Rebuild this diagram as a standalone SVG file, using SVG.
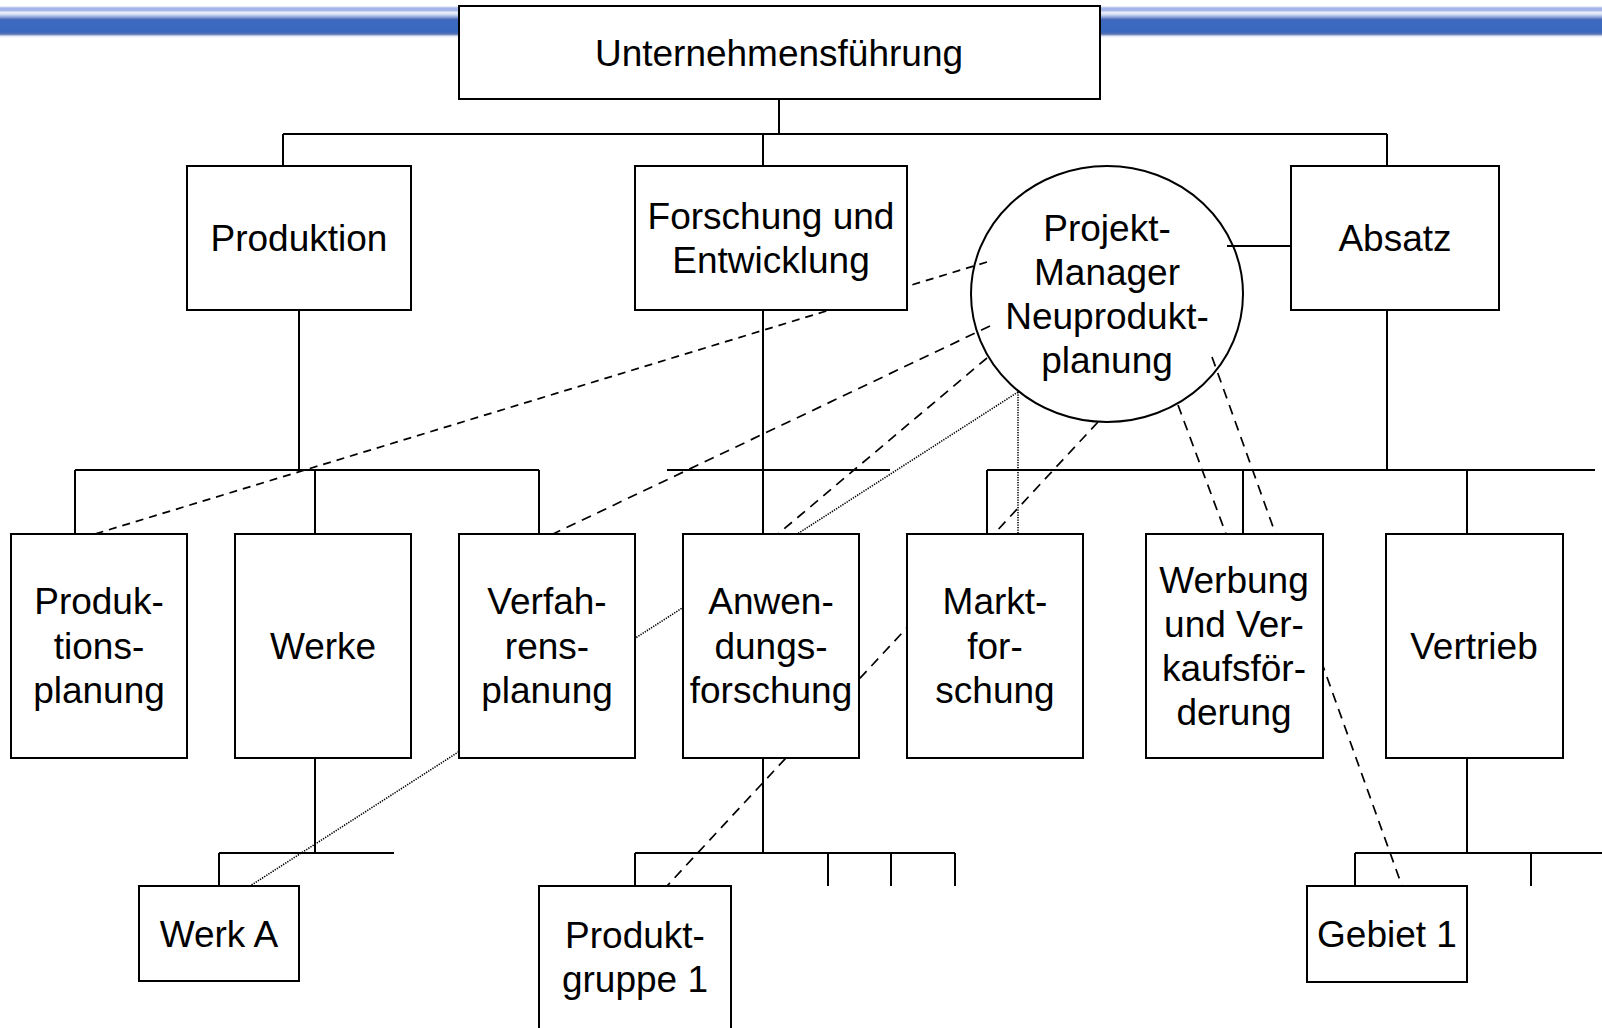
<svg xmlns="http://www.w3.org/2000/svg" width="1602" height="1028" viewBox="0 0 1602 1028">
  <defs>
    <linearGradient id="band" x1="0" y1="0" x2="0" y2="1">
      <stop offset="0" stop-color="#ffffff"/>
      <stop offset="0.06" stop-color="#a8b8ec"/>
      <stop offset="0.13" stop-color="#9fb0e8"/>
      <stop offset="0.2" stop-color="#e8eefa"/>
      <stop offset="0.26" stop-color="#d6e0f6"/>
      <stop offset="0.35" stop-color="#8aa2dc"/>
      <stop offset="0.42" stop-color="#4a68b5"/>
      <stop offset="0.48" stop-color="#3b6ac0"/>
      <stop offset="0.8" stop-color="#3a68bd"/>
      <stop offset="0.88" stop-color="#5a72b0"/>
      <stop offset="0.94" stop-color="#dfe8f6"/>
      <stop offset="1" stop-color="#ffffff"/>
    </linearGradient>
    <style>
      .box { fill: #ffffff; stroke: #000000; stroke-width: 2; }
      .oval { fill: none; stroke: #000000; stroke-width: 2; }
      .wire { fill: none; stroke: #000000; stroke-width: 2; }
      .dash { fill: none; stroke: #000000; stroke-width: 1.7; stroke-dasharray: 10 7; }
      .dash-short { fill: none; stroke: #000000; stroke-width: 1.7; stroke-dasharray: 8 6; }
      .dot { fill: none; stroke: #000000; stroke-width: 1.6; stroke-dasharray: 1.3 1.2; }
      text { font-family: "Liberation Sans", Arial, sans-serif; font-size: 37px; fill: #000000; text-anchor: middle; }
    </style>
  </defs>

  <rect width="1602" height="1028" fill="#ffffff"/>

  <!-- header band -->
  <rect x="0" y="6" width="1602" height="32" fill="url(#band)"/>

  <!-- connectors: drawn first so the boxes cover the parts that run behind them -->
  <g id="connectors">
    <!-- hierarchy lines -->
    <path class="wire" d="M779,99 V134 M283,134 H1387 M283,134 V166 M763,134 V166 M1387,134 V166"/>
    <path class="wire" d="M1227,246 H1291"/>
    <path class="wire" d="M299,310 V470 M75,470 H539 M75,470 V534 M315,470 V534 M539,470 V534"/>
    <path class="wire" d="M763,310 V534 M667,470 H890"/>
    <path class="wire" d="M1387,310 V470 M987,470 H1595 M987,470 V534 M1243,470 V534 M1467,470 V534"/>
    <path class="wire" d="M315,758 V853 M219,853 H394 M219,853 V886"/>
    <path class="wire" d="M763,758 V853 M635,853 H955 M635,853 V886 M828,853 V886 M891,853 V886 M955,853 V886"/>
    <path class="wire" d="M1467,758 V853 M1355,853 H1602 M1355,853 V886 M1531,853 V886"/>
    <!-- project manager links -->
    <line class="dash-short" x1="987" y1="262" x2="95" y2="534"/>
    <line class="dash" x1="990" y1="326" x2="553" y2="534"/>
    <line class="dash" x1="987" y1="358" x2="778" y2="534"/>
    <line class="dash" x1="1098" y1="422" x2="667" y2="886"/>
    <line class="dash" x1="1178" y1="405" x2="1226" y2="534"/>
    <line class="dash" x1="1212" y1="357" x2="1402" y2="886"/>
    <line class="dot" x1="1018" y1="392" x2="250" y2="886"/>
    <line class="dot" x1="1018" y1="392" x2="1018" y2="534"/>
  </g>

  <g id="unternehmensfuehrung">
    <rect class="box" x="459" y="6" width="641" height="93"/>
    <text x="779" y="66">Unternehmensführung</text>
  </g>

  <g id="produktion">
    <rect class="box" x="187" y="166" width="224" height="144"/>
    <text x="299" y="251">Produktion</text>
  </g>

  <g id="forschung-entwicklung">
    <rect class="box" x="635" y="166" width="272" height="144"/>
    <text x="771" y="229">Forschung und</text>
    <text x="771" y="273">Entwicklung</text>
  </g>

  <g id="projekt-manager">
    <ellipse class="oval" cx="1107" cy="294" rx="136" ry="128"/>
    <text x="1107" y="241">Projekt-</text>
    <text x="1107" y="285">Manager</text>
    <text x="1107" y="329">Neuprodukt-</text>
    <text x="1107" y="373">planung</text>
  </g>

  <g id="absatz">
    <rect class="box" x="1291" y="166" width="208" height="144"/>
    <text x="1395" y="251">Absatz</text>
  </g>

  <g id="produktionsplanung">
    <rect class="box" x="11" y="534" width="176" height="224"/>
    <text x="99" y="614">Produk-</text>
    <text x="99" y="659">tions-</text>
    <text x="99" y="703">planung</text>
  </g>

  <g id="werke">
    <rect class="box" x="235" y="534" width="176" height="224"/>
    <text x="323" y="659">Werke</text>
  </g>

  <g id="verfahrensplanung">
    <rect class="box" x="459" y="534" width="176" height="224"/>
    <text x="547" y="614">Verfah-</text>
    <text x="547" y="659">rens-</text>
    <text x="547" y="703">planung</text>
  </g>

  <g id="anwendungsforschung">
    <rect class="box" x="683" y="534" width="176" height="224"/>
    <text x="771" y="614">Anwen-</text>
    <text x="771" y="659">dungs-</text>
    <text x="771" y="703">forschung</text>
  </g>

  <g id="marktforschung">
    <rect class="box" x="907" y="534" width="176" height="224"/>
    <text x="995" y="614">Markt-</text>
    <text x="995" y="659">for-</text>
    <text x="995" y="703">schung</text>
  </g>

  <g id="werbung">
    <rect class="box" x="1146" y="534" width="177" height="224"/>
    <text x="1234" y="593">Werbung</text>
    <text x="1234" y="637">und Ver-</text>
    <text x="1234" y="681">kaufsför-</text>
    <text x="1234" y="725">derung</text>
  </g>

  <g id="vertrieb">
    <rect class="box" x="1386" y="534" width="177" height="224"/>
    <text x="1474" y="659">Vertrieb</text>
  </g>

  <g id="werk-a">
    <rect class="box" x="139" y="886" width="160" height="95"/>
    <text x="219" y="947">Werk A</text>
  </g>

  <g id="produktgruppe-1">
    <rect class="box" x="539" y="886" width="192" height="160"/>
    <text x="635" y="948">Produkt-</text>
    <text x="635" y="992">gruppe 1</text>
  </g>

  <g id="gebiet-1">
    <rect class="box" x="1307" y="886" width="160" height="96"/>
    <text x="1387" y="947">Gebiet 1</text>
  </g>
</svg>
